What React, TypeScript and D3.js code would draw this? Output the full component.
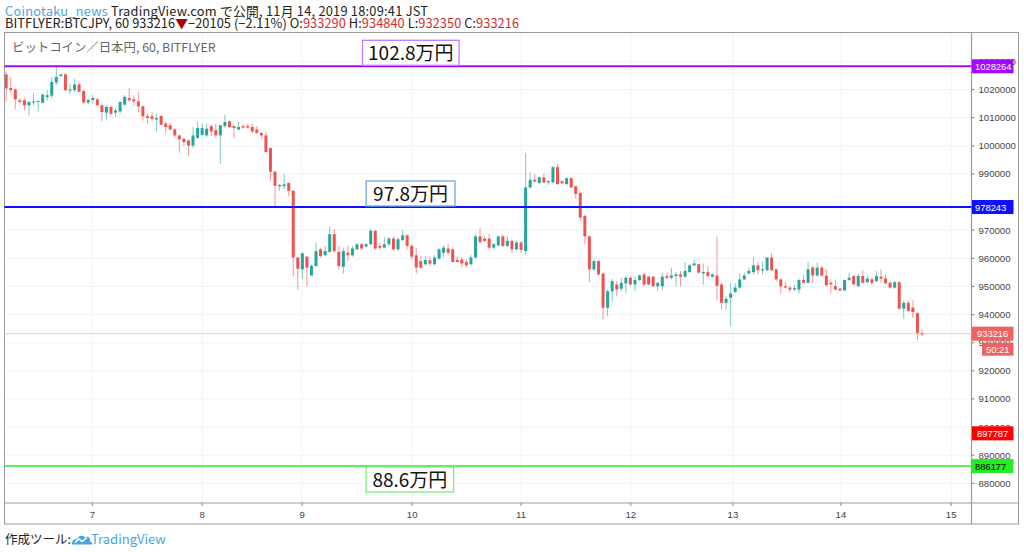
import React from 'react';
import * as d3 from 'd3';

// OHLC in thousands of JPY (hourly candles, BTC/JPY bitFlyer)
const openK = [
1025.4,1020.6,1020.0,1016.2,1016.2,1014.4,1015.4,1015.6,1015.3,1017.3,
1017.8,1022.5,1024.8,1025.4,1019.6,1019.8,1021.8,1019.5,1015.4,1016.3,
1016.5,1014.4,1011.8,1013.8,1011.8,1012.2,1014.6,1017.0,1016.5,1015.8,
1014.0,1010.5,1010.5,1009.4,1010.6,1007.9,1007.3,1005.8,1003.7,1002.5,
1001.9,1000.1,1002.8,1003.9,1003.7,1007.0,1005.5,1003.7,1007.0,1008.7,
1007.0,1005.8,1007.0,1007.0,1006.7,1005.8,1004.6,1003.7,999.2,990.8,
986.1,985.6,986.8,984.0,960.3,956.1,960.6,953.9,957.3,963.2,
961.1,962.3,968.6,962.3,957.0,962.0,961.1,963.2,965.0,964.2,
965.0,969.8,964.4,963.8,965.0,967.0,963.2,966.5,968.2,964.4,
961.1,959.0,957.9,959.3,957.9,959.9,962.0,963.5,963.2,959.4,
959.6,958.7,957.9,960.3,967.8,967.0,967.0,963.8,964.6,967.8,
964.4,966.2,963.2,965.6,962.6,985.2,987.9,986.8,988.8,987.0,
987.0,992.4,987.4,986.4,988.5,985.6,983.2,975.1,967.8,956.1,
959.0,954.6,942.4,948.3,950.7,949.2,951.1,953.1,950.7,952.3,
954.3,953.5,953.5,950.1,950.1,953.7,953.1,953.7,954.3,953.5,
955.1,957.5,957.9,954.6,955.1,953.5,953.9,950.7,944.2,946.0,
948.0,949.6,952.5,954.6,955.1,957.5,955.7,955.8,960.3,956.1,
952.5,950.1,949.6,948.9,948.9,952.3,951.3,956.7,953.9,956.7,
953.9,951.3,950.1,949.2,948.6,952.3,953.7,950.1,953.7,951.5,
952.5,951.9,953.5,952.8,951.3,949.6,951.5,942.1,944.2,942.5,
940.5,933.29];
const highK = [
1026.5,1024.5,1020.4,1017.0,1017.0,1015.8,1018.6,1015.8,1018.6,1019.8,
1024.5,1028.1,1025.7,1025.7,1022.1,1023.9,1022.8,1019.8,1016.8,1018.0,
1017.0,1015.0,1014.4,1014.4,1013.2,1015.8,1018.0,1020.4,1018.0,1019.2,
1014.4,1011.4,1012.0,1011.4,1011.1,1008.5,1008.2,1006.3,1003.9,1002.8,
1002.3,1006.7,1008.5,1007.9,1007.9,1007.5,1007.9,1007.5,1011.1,1009.0,
1007.3,1008.7,1007.9,1007.9,1007.9,1007.0,1004.9,1005.1,999.5,991.2,
986.4,990.0,987.0,984.3,960.3,962.0,960.8,957.9,965.6,963.8,
964.4,971.3,970.4,964.4,963.8,964.4,964.4,965.4,965.4,965.4,
970.6,970.1,965.4,967.4,967.8,967.8,967.4,970.1,968.6,965.0,
963.8,960.8,960.6,960.8,961.1,963.8,964.7,965.0,963.8,960.6,
960.3,959.6,961.1,968.6,971.0,967.8,968.6,965.4,968.2,968.6,
967.8,966.8,966.2,966.2,997.5,990.6,990.0,989.2,990.0,987.6,
992.8,993.6,987.6,988.8,988.8,985.8,983.7,975.4,968.0,959.6,
959.4,954.9,948.9,952.7,951.9,953.1,953.7,953.7,953.7,954.3,
954.6,953.9,953.7,951.5,954.9,954.9,956.7,955.1,955.5,958.5,
957.9,959.6,958.1,958.2,957.3,954.6,967.8,951.3,946.6,951.3,
951.3,954.6,954.9,956.8,960.3,958.5,958.9,960.3,962.0,956.3,
952.8,951.9,950.1,950.7,952.8,954.3,958.8,957.3,958.5,957.3,
956.1,952.5,952.5,949.6,952.5,954.9,954.3,954.6,955.8,953.9,
953.1,955.5,956.1,954.3,951.9,951.9,951.9,945.1,945.1,945.1,
940.9,934.84];
const lowK = [
1015.7,1018.6,1013.0,1015.0,1012.6,1010.8,1014.4,1012.1,1015.0,1016.2,
1016.8,1021.5,1024.5,1019.4,1018.2,1019.2,1019.2,1015.0,1014.8,1015.0,
1014.4,1008.7,1009.0,1010.8,1010.3,1011.4,1014.4,1015.6,1014.4,1012.0,
1009.0,1007.9,1009.0,1005.1,1007.3,1004.6,1005.5,1003.1,997.5,999.9,
996.5,999.2,1002.5,1003.7,1003.1,1003.5,1003.1,993.6,1006.3,1006.3,
1002.8,1005.5,1006.1,1006.1,1004.6,1004.3,1002.3,997.5,987.6,978.5,
984.0,984.6,982.0,953.7,948.9,952.8,950.1,953.7,957.0,960.3,
960.8,962.0,962.0,956.1,954.6,959.0,960.6,962.9,963.0,963.8,
964.6,963.2,963.0,963.5,964.4,962.6,962.6,966.2,963.2,959.6,
954.6,956.1,957.5,957.3,957.5,959.6,960.3,961.4,958.5,958.5,
956.7,956.7,957.5,959.9,965.0,965.6,963.2,963.2,964.2,964.2,
964.2,961.8,962.9,962.0,961.4,984.9,987.0,986.4,986.8,986.1,
986.8,986.1,986.4,986.1,984.9,981.1,973.3,965.0,951.5,955.5,
953.9,938.2,939.4,944.8,946.5,948.3,947.8,950.4,948.3,951.9,
950.1,950.4,949.9,948.3,948.7,952.5,952.5,950.1,950.1,953.1,
954.9,957.3,954.6,950.7,953.1,953.1,945.0,941.8,941.8,935.9,
947.8,949.2,952.3,954.3,954.3,954.3,954.3,955.5,955.5,951.9,
947.5,949.2,948.0,948.3,947.5,951.3,951.1,951.1,953.5,953.7,
950.1,947.5,948.7,948.3,948.3,951.9,950.4,949.9,951.1,951.3,
950.4,951.5,951.3,950.7,949.2,949.2,941.8,938.5,940.9,938.7,
931.1,932.35];
const closeK = [
1020.4,1019.8,1016.5,1015.6,1014.4,1015.6,1015.8,1016.0,1018.2,1018.0,
1022.7,1024.5,1025.4,1019.8,1020.0,1021.8,1019.2,1015.4,1016.3,1017.0,
1014.4,1012.0,1013.8,1011.4,1012.6,1015.6,1017.4,1016.2,1015.8,1014.0,
1010.5,1009.9,1009.6,1009.9,1007.5,1006.7,1005.8,1003.7,1002.3,1001.3,
1000.1,1003.7,1006.3,1006.3,1006.1,1005.1,1003.7,1007.3,1008.5,1006.7,
1006.3,1006.7,1006.5,1006.5,1005.1,1004.6,1003.7,997.8,990.8,985.8,
985.6,986.3,984.0,960.3,956.3,961.8,956.7,957.3,962.6,960.8,
962.6,968.6,962.6,957.3,962.6,961.1,963.5,965.0,963.5,965.0,
969.8,963.5,963.8,965.0,967.0,963.2,966.8,968.2,964.4,960.6,
956.7,956.7,959.4,958.1,960.3,963.2,963.8,962.0,958.7,958.7,
958.2,957.5,960.3,967.8,965.8,966.2,963.8,965.0,967.8,964.4,
966.2,963.2,965.6,963.0,985.2,987.9,987.3,988.8,987.0,987.5,
992.4,986.4,986.7,988.5,985.2,982.9,974.5,967.8,956.1,959.0,
954.3,942.4,948.3,951.9,948.9,951.3,953.1,950.7,952.3,953.9,
950.7,950.7,950.1,951.3,953.5,953.1,953.9,954.3,953.5,955.5,
957.5,958.2,954.9,955.1,953.7,954.3,950.2,944.2,945.6,947.5,
949.6,952.5,953.9,955.5,957.5,955.8,956.1,960.3,955.8,952.5,
950.1,949.6,948.9,949.4,952.3,951.3,956.1,953.9,956.7,953.9,
950.4,950.7,948.9,948.6,952.3,953.1,950.7,953.7,951.3,952.8,
951.3,953.7,952.8,951.1,949.6,951.5,942.1,944.2,941.3,940.9,
933.5,933.216];

const priceTicks = [880000, 890000, 900000, 910000, 920000, 930000, 940000, 950000, 960000, 970000, 980000, 990000, 1000000, 1010000, 1020000, 1030000];
const dayLabels = ['7', '8', '9', '10', '11', '12', '13', '14', '15'];
const dayTickIndex = [18.9, 43.0, 64.95, 89.1, 113.0, 137.1, 159.5, 183.2, 207.4];

const levelPrices = [1028264, 978243, 886177];
const levelColors = ['#9d0bff', '#0f0fff', '#22ee22'];
const levelTextColors = ['#ffffff', '#ffffff', '#000000'];
const noteTexts = ['102.8万円', '97.8万円', '88.6万円'];
const noteBorders = ['#c57cff', '#6fa6e2', '#77ee77'];
const noteIndexStart = [78.2, 79.0, 79.0];
const noteIndexEnd = [99.4, 98.5, 98.2];
const noteAbove = [true, true, false];

const lastPrice = 933216;
const alertPrice = 897787;
const countdown = '50:21';

const UP = '#26a69a';
const DOWN = '#ef5350';
const FONT = "'Noto Sans CJK JP', 'Noto Sans', sans-serif";
const AXFONT = "'Liberation Sans', Arial, sans-serif";

const W = 1024;
const H = 552;
const plotL = 4.5, plotR = 971.5, plotT = 32.5, plotB = 503;
const frameR = 1018.5, frameB = 524;

export default function App() {
  const candles = closeK.map((c, i) => ({
    i,
    o: openK[i] * 1000,
    h: highK[i] * 1000,
    l: lowK[i] * 1000,
    c: c * 1000,
  }));

  const x = d3.scaleLinear().domain([0, candles.length - 1]).range([6.2, 922]);
  const y = d3.scaleLinear().domain([873025, 1040285]).range([plotB, plotT]);
  const bodyW = 3;

  return (
    <svg width={W} height={H} viewBox={`0 0 ${W} ${H}`}
      style={{ position: 'absolute', left: 0, top: 0, background: '#fff' }}
      fontFamily={FONT}>
      <defs>
        <clipPath id="plotclip">
          <rect x={plotL} y={plotT} width={plotR - plotL} height={plotB - plotT} />
        </clipPath>
      </defs>
      <rect x={0} y={0} width={W} height={H} fill="#fff" />

      {/* header */}
      <text x={5} y={15.5} fontSize={12.8} fill="#222" textLength={423} lengthAdjust="spacing">
        <tspan fill="#4ba6df">Coinotaku_news</tspan>
        <tspan> TradingView.com で公開, 11月 14, 2019 18:09:41 JST</tspan>
      </text>
      <text x={5} y={27.5} fontSize={12.8} fill="#222" textLength={514} lengthAdjust="spacing">
        <tspan>BITFLYER:BTCJPY, 60 933216</tspan>
        <tspan fill="#b00000">▼</tspan>
        <tspan>−20105 (−2.11%) O:</tspan>
        <tspan fill="#d32f2f">933290</tspan>
        <tspan> H:</tspan>
        <tspan fill="#d32f2f">934840</tspan>
        <tspan> L:</tspan>
        <tspan fill="#d32f2f">932350</tspan>
        <tspan> C:</tspan>
        <tspan fill="#d32f2f">933216</tspan>
      </text>

      {/* grid */}
      <g clipPath="url(#plotclip)">
        {priceTicks.map((p) => (
          <line key={'hg' + p} x1={plotL} x2={plotR} y1={y(p)} y2={y(p)} stroke="#eff2f8" strokeWidth={1} />
        ))}
        {dayTickIndex.map((d, k) => (
          <line key={'vg' + k} x1={x(d)} x2={x(d)} y1={plotT} y2={plotB} stroke="#eff2f8" strokeWidth={1} />
        ))}
      </g>

      {/* frame */}
      <rect x={plotL} y={plotT} width={frameR - plotL} height={frameB - plotT} fill="none" stroke="#9a9a9a" strokeWidth={1} />
      <line x1={plotR} x2={plotR} y1={plotT} y2={frameB} stroke="#9a9a9a" strokeWidth={1.2} />
      <line x1={plotL} x2={frameR} y1={plotB} y2={plotB} stroke="#9a9a9a" strokeWidth={1.2} />

      <text x={12} y={51.5} fontSize={12.4} fill="#666">ビットコイン／日本円, 60, BITFLYER</text>

      {/* current price line */}
      <line x1={plotL} x2={plotR} y1={y(lastPrice)} y2={y(lastPrice)} stroke="#f8c4c4" strokeWidth={1} />

      {/* candles */}
      <g clipPath="url(#plotclip)">
        {candles.map((d) => {
          const col = d.c >= d.o ? UP : DOWN;
          const top = y(Math.max(d.o, d.c));
          const bot = y(Math.min(d.o, d.c));
          return (
            <g key={d.i}>
              <line x1={x(d.i)} x2={x(d.i)} y1={y(d.h)} y2={y(d.l)} stroke={col} strokeOpacity={0.6} strokeWidth={1} />
              <rect x={x(d.i) - bodyW / 2} y={top} width={bodyW} height={Math.max(1, bot - top)} fill={col} />
            </g>
          );
        })}
      </g>

      {/* horizontal levels */}
      {levelPrices.map((p, k) => (
        <line key={'lv' + k} x1={plotL} x2={plotR} y1={y(p)} y2={y(p)} stroke={levelColors[k]} strokeWidth={k === 2 ? 1.6 : 2} />
      ))}

      {/* notes */}
      {noteTexts.map((t, k) => {
        const x0 = x(noteIndexStart[k]);
        const x1 = x(noteIndexEnd[k]);
        const ly = y(levelPrices[k]);
        const bh = 25;
        const by = noteAbove[k] ? ly - bh - 1 : ly + 1;
        return (
          <g key={'nt' + k}>
            <rect x={x0} y={by} width={x1 - x0} height={bh} fill="#fff" stroke={noteBorders[k]} strokeWidth={1.3} />
            <text x={(x0 + x1) / 2} y={by + 19.5} textAnchor="middle" fontSize={19} fill="#111">{t}</text>
          </g>
        );
      })}

      {/* right axis */}
      {priceTicks.map((p) => (
        <g key={'pt' + p}>
          <line x1={plotR} x2={plotR + 3} y1={y(p)} y2={y(p)} stroke="#888" />
          <text x={978.5} y={y(p) + 3.5} fontSize={9.6} fill="#444" fontFamily={AXFONT}>{p}</text>
        </g>
      ))}

      {/* axis price labels */}
      {levelPrices.map((p, k) => (
        <g key={'al' + k}>
          <rect x={plotR + 0.5} y={y(p) - 7} width={41.5} height={14} fill={levelColors[k]} />
          <text x={plotR + 3.5} y={y(p) + 3.6} fontSize={9.4} fill={levelTextColors[k]} fontFamily={AXFONT}>{p}</text>
        </g>
      ))}
      <g>
        <rect x={plotR + 0.5} y={y(alertPrice) - 7} width={41.5} height={14} fill="#ff0000" />
        <text x={plotR + 5.5} y={y(alertPrice) + 3.6} fontSize={9.4} fill="#fff" fontFamily={AXFONT}>{alertPrice}</text>
      </g>
      <g>
        <rect x={plotR + 0.5} y={y(lastPrice) - 7} width={41.5} height={14} fill="#ef6262" />
        <text x={plotR + 5.5} y={y(lastPrice) + 3.6} fontSize={9.4} fill="#fff" fontFamily={AXFONT}>{lastPrice}</text>
        <rect x={plotR + 10.5} y={y(lastPrice) + 9} width={31.5} height={13} fill="#ef6262" />
        <text x={plotR + 14.5} y={y(lastPrice) + 19} fontSize={9.4} fill="#fff" fontFamily={AXFONT}>{countdown}</text>
      </g>

      {/* bottom axis */}
      {dayTickIndex.map((d, k) => (
        <g key={'dt' + k}>
          <line x1={x(d)} x2={x(d)} y1={plotB} y2={plotB + 3} stroke="#888" />
          <text x={x(d)} y={518} textAnchor="middle" fontSize={9.6} fill="#444" fontFamily={AXFONT}>{dayLabels[k]}</text>
        </g>
      ))}

      {/* footer */}
      <text x={5} y={543.5} fontSize={12.5} fill="#222">作成ツール:</text>
      <g transform="translate(72,533.5)">
        <path d="M0,10 C0,6 3,5 5,6 C6,2 11,1 13,4 C15,2 19,4 18,8 C20,8 21,10 20,11 L0,11 Z" fill="#4ba6df" />
        <path d="M3,9 L7,5.5 L10,8 L15,4" fill="none" stroke="#fff" strokeWidth={1.4} />
      </g>
      <text x={91} y={543.5} fontSize={13} fill="#4ba6df">TradingView</text>
    </svg>
  );
}
